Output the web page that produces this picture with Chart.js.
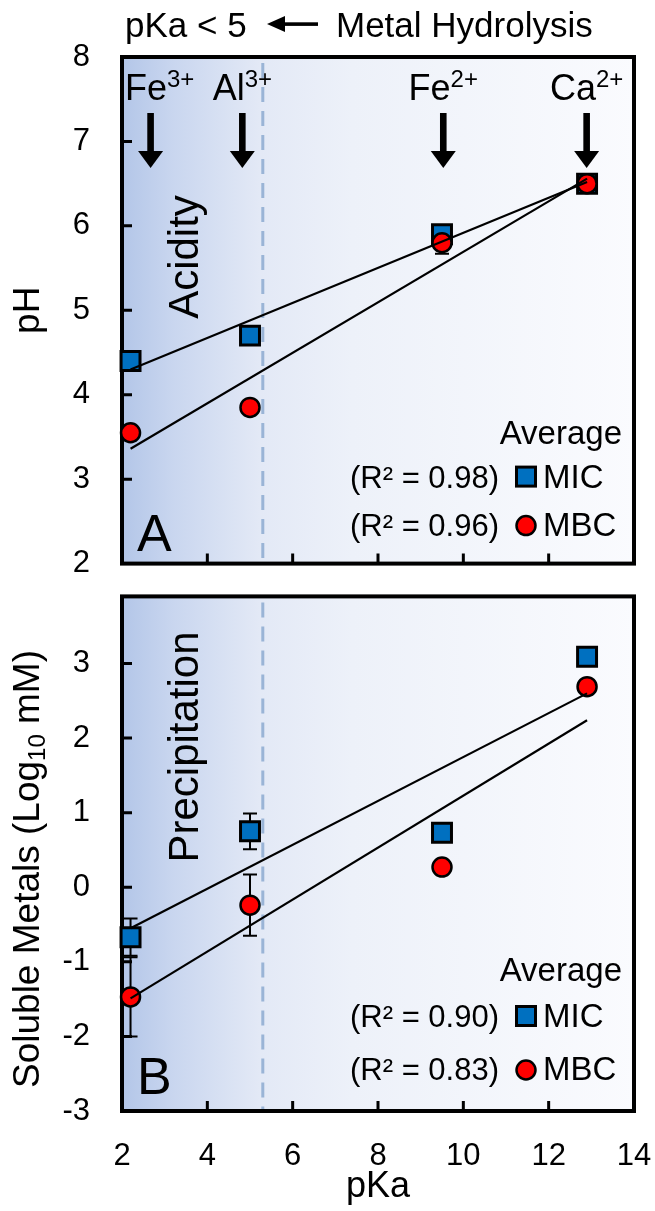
<!DOCTYPE html>
<html>
<head>
<meta charset="utf-8">
<script src="https://cdn.jsdelivr.net/npm/chart.js@4.4.0/dist/chart.umd.min.js"></script>
<style>
  body { margin: 0; background: #fff; }
  #wrap { position: relative; width: 655px; height: 1211px; }
  canvas { position: absolute; left: 0; }
</style>
</head>
<body>
<div id="wrap">
  <canvas id="chartA" width="655" height="580" style="top:0"></canvas>
  <canvas id="chartB" width="655" height="631" style="top:580px"></canvas>
</div>
<script>
// metal ions: Fe3+, Al3+, Fe2+, Ca2+
var pKa = [2.2, 5.0, 9.5, 12.9];
var ions = ['Fe', 'Al', 'Fe', 'Ca'];
var ionCharge = ['3+', '3+', '2+', '2+'];
var ionArrowX = [2.67, 4.82, 9.53, 12.89];
var hydrolysisPKa = 5.3;

// panel A - pH
var phMIC = [4.4, 4.7, 5.9, 6.5];
var phMBC = [3.55, 3.85, 5.8, 6.5];
var phMICErr = [0.06, 0.02, 0.03, 0.05];
var phMBCErr = [0.03, 0.02, 0.13, 0.04];

// panel B - soluble metals (log10 mM)
var metalMIC = [-0.67, 0.75, 0.73, 3.09];
var metalMBC = [-1.47, -0.24, 0.27, 2.69];
var metalMICErr = [0.25, 0.24, 0.03, 0.03];
var metalMBCErr = [0.53, 0.41, 0.03, 0.03];

// trend lines, read at the first and last pKa
var trendX = [2.2, 12.9];
var phFitMIC = [4.30, 6.52];
var phFitMBC = [3.36, 6.56];
var metalFitMIC = [-0.55, 2.60];
var metalFitMBC = [-1.49, 2.24];
var r2pH = ['0.98', '0.96'];
var r2Metal = ['0.90', '0.83'];

// axes
var xTicks = [2, 4, 6, 8, 10, 12, 14];
var phTicks = [2, 3, 4, 5, 6, 7, 8];
var metalTicks = [-3, -2, -1, 0, 1, 2, 3];

var FONT = '"Liberation Sans", Arial, sans-serif';
var BLUE = '#0070c0';
var RED = '#ff0000';

function pts(xs, ys) {
	return xs.map(function (x, i) { return { x: x, y: ys[i] }; });
}

function txt(ctx, s, x, y, size, align, base) {
	ctx.font = size + 'px ' + FONT;
	ctx.textAlign = align || 'left';
	ctx.textBaseline = base || 'alphabetic';
	ctx.fillStyle = '#000';
	ctx.fillText(s, x, y);
}

function rotTxt(ctx, pieces, cx, cy) {
	// pieces: [text, size, baseline shift]
	ctx.save();
	ctx.translate(cx, cy);
	ctx.rotate(-Math.PI / 2);
	var total = 0;
	pieces.forEach(function (p) { ctx.font = p[1] + 'px ' + FONT; total += ctx.measureText(p[0]).width; });
	var x = -total / 2;
	pieces.forEach(function (p) {
		txt(ctx, p[0], x, p[2], p[1], 'left', 'middle');
		ctx.font = p[1] + 'px ' + FONT;
		x += ctx.measureText(p[0]).width;
	});
	ctx.restore();
}

function squareIcon(ctx, x, y) {
	ctx.fillStyle = BLUE; ctx.strokeStyle = '#000'; ctx.lineWidth = 3;
	ctx.fillRect(x - 9.5, y - 9.5, 19, 19);
	ctx.strokeRect(x - 9.5, y - 9.5, 19, 19);
}

function circleIcon(ctx, x, y) {
	ctx.fillStyle = RED; ctx.strokeStyle = '#000'; ctx.lineWidth = 2.5;
	ctx.beginPath(); ctx.arc(x, y, 9.5, 0, Math.PI * 2); ctx.fill(); ctx.stroke();
}

function downArrow(ctx, x, y0, y1) {
	ctx.fillStyle = '#000';
	ctx.fillRect(x - 3.3, y0, 6.6, y1 - y0 - 15);
	ctx.beginPath();
	ctx.moveTo(x - 12.5, y1 - 17); ctx.lineTo(x + 12.5, y1 - 17); ctx.lineTo(x, y1);
	ctx.closePath(); ctx.fill();
}

// background, hydrolysis line, frame, inward ticks and error bars
var framePlugin = {
	id: 'frame',
	beforeDatasetsDraw: function (chart, args, opts) {
		var ctx = chart.ctx, a = chart.chartArea, xs = chart.scales.x, ys = chart.scales.y;
		ctx.save();
		var g = ctx.createLinearGradient(a.left, 0, a.right, 0);
		g.addColorStop(0, '#b3c6e8');
		g.addColorStop(0.1, '#c9d6ef');
		g.addColorStop(0.27, '#e3e9f6');
		g.addColorStop(0.45, '#edf1f9');
		g.addColorStop(1, '#fafbfe');
		ctx.fillStyle = g;
		ctx.fillRect(a.left, a.top, a.right - a.left, a.bottom - a.top);

		var hx = xs.getPixelForValue(hydrolysisPKa);
		ctx.strokeStyle = '#9ab4d6'; ctx.lineWidth = 3; ctx.setLineDash([15, 9]);
		ctx.beginPath(); ctx.moveTo(hx, a.top + 6); ctx.lineTo(hx, a.bottom); ctx.stroke();
		ctx.setLineDash([]);

		ctx.strokeStyle = '#000'; ctx.lineWidth = 3;
		ctx.beginPath();
		opts.yTicks.forEach(function (v) {
			var py = ys.getPixelForValue(v);
			ctx.moveTo(a.left, py); ctx.lineTo(a.left + 10, py);
		});
		xTicks.forEach(function (v) {
			var px = xs.getPixelForValue(v);
			ctx.moveTo(px, a.bottom); ctx.lineTo(px, a.bottom - 10);
		});
		ctx.stroke();
		ctx.lineWidth = 4;
		ctx.strokeRect(a.left, a.top, a.right - a.left, a.bottom - a.top);

		// error bars
		ctx.lineWidth = 2;
		chart.data.datasets.forEach(function (ds) {
			if (!ds.errors) return;
			ds.data.forEach(function (p, i) {
				var px = xs.getPixelForValue(p.x);
				var t = ys.getPixelForValue(p.y + ds.errors[i]);
				var b = ys.getPixelForValue(p.y - ds.errors[i]);
				ctx.beginPath();
				ctx.moveTo(px, t); ctx.lineTo(px, b);
				ctx.moveTo(px - 7, t); ctx.lineTo(px + 7, t);
				ctx.moveTo(px - 7, b); ctx.lineTo(px + 7, b);
				ctx.stroke();
			});
		});
		ctx.restore();
	}
};

// legend, panel letter, region label
var notesPlugin = {
	id: 'notes',
	afterDraw: function (chart, args, o) {
		var ctx = chart.ctx, a = chart.chartArea;
		ctx.save();
		var lx = a.right - 108;
		txt(ctx, 'Average', a.right - 12, a.bottom - o.legendY[0], 33, 'right');
		txt(ctx, '(R\u00b2 = ' + o.r2[0] + ')', a.right - 135, a.bottom - o.legendY[1], 31, 'right');
		squareIcon(ctx, lx, a.bottom - o.legendY[1] - 11);
		txt(ctx, 'MIC', a.right - 91, a.bottom - o.legendY[1], 33, 'left');
		txt(ctx, '(R\u00b2 = ' + o.r2[1] + ')', a.right - 135, a.bottom - o.legendY[2], 31, 'right');
		circleIcon(ctx, lx, a.bottom - o.legendY[2] - 10);
		txt(ctx, 'MBC', a.right - 91, a.bottom - o.legendY[2], 33, 'left');

		txt(ctx, o.letter, a.left + 15, a.bottom - o.letterY, 52, 'left');
		rotTxt(ctx, [[o.region, 42, 0]], a.left + 64, o.regionY);
		ctx.restore();
	}
};

function dataSets(mic, mbc, micErr, mbcErr, fitMic, fitMbc) {
	return [
		{ label: 'MIC fit', data: pts(trendX, fitMic), showLine: true, borderColor: '#000', borderWidth: 2.2, pointRadius: 0, order: 0, clip: false },
		{ label: 'MBC fit', data: pts(trendX, fitMbc), showLine: true, borderColor: '#000', borderWidth: 2.2, pointRadius: 0, order: 0, clip: false },
		{ label: 'MBC', data: pts(pKa, mbc), errors: mbcErr, pointStyle: 'circle', pointRadius: 9.5, backgroundColor: RED, borderColor: '#000', borderWidth: 2.5, order: 1, clip: false },
		{ label: 'MIC', data: pts(pKa, mic), errors: micErr, pointStyle: 'rect', pointRadius: 13.4, backgroundColor: BLUE, borderColor: '#000', borderWidth: 3, order: 2, clip: false }
	];
}

// keep the plot box where the layout padding puts it
function noLabelPadding(s) {
	s.paddingTop = 0; s.paddingBottom = 0; s.paddingLeft = 0; s.paddingRight = 0;
}

function yAxis(min, max, ticks) {
	return {
		type: 'linear', min: min, max: max,
		afterFit: function (s) { s.width = 122; noLabelPadding(s); },
		afterBuildTicks: function (s) { s.ticks = ticks.map(function (v) { return { value: v }; }); },
		ticks: { color: '#000', padding: 32, font: { family: FONT, size: 31 } },
		grid: { display: false, drawTicks: false },
		border: { display: false }
	};
}

Chart.defaults.animation = false;

var chartA = new Chart(document.getElementById('chartA'), {
	type: 'scatter',
	data: { datasets: dataSets(phMIC, phMBC, phMICErr, phMBCErr, phFitMIC, phFitMBC) },
	options: {
		responsive: false,
		devicePixelRatio: 1,
		layout: { padding: { top: 57, right: 21, bottom: 0, left: 0 } },
		scales: {
			x: {
				type: 'linear', min: 2, max: 14,
				afterFit: function (s) { s.height = 12; noLabelPadding(s); },
				afterBuildTicks: function (s) { s.ticks = xTicks.map(function (v) { return { value: v }; }); },
				ticks: { display: false },
				grid: { display: false, drawTicks: false },
				border: { display: false }
			},
			y: yAxis(2, 8, phTicks)
		},
		plugins: {
			legend: { display: false },
			tooltip: { enabled: false },
			frame: { yTicks: phTicks },
			notes: { r2: r2pH, legendY: [120, 76, 28], letter: 'A', letterY: 13, region: 'Acidity', regionY: 257 }
		}
	},
	plugins: [framePlugin, notesPlugin, {
		id: 'topNotes',
		afterDraw: function (chart) {
			var ctx = chart.ctx, a = chart.chartArea, xs = chart.scales.x;
			ctx.save();
			// header
			txt(ctx, 'pKa < 5', 125, 37, 35, 'left');
			ctx.fillStyle = '#000';
			ctx.fillRect(282, 22.3, 36, 3.6);
			ctx.beginPath(); ctx.moveTo(267, 24); ctx.lineTo(285, 16); ctx.lineTo(285, 32); ctx.closePath(); ctx.fill();
			txt(ctx, 'Metal Hydrolysis', 336, 37, 35, 'left');
			// ion labels and arrows
			ionArrowX.forEach(function (v, i) {
				var px = xs.getPixelForValue(v);
				ctx.font = '36px ' + FONT;
				var w1 = ctx.measureText(ions[i]).width;
				ctx.font = '24px ' + FONT;
				var w2 = ctx.measureText(ionCharge[i]).width;
				var cx = Math.max(px, a.left + (w1 + w2) / 2 + 3);
				var left = cx - (w1 + w2) / 2;
				txt(ctx, ions[i], left, a.top + 43, 36, 'left');
				txt(ctx, ionCharge[i], left + w1, a.top + 30, 24, 'left');
				downArrow(ctx, px, a.top + 56, a.top + 111);
			});
			rotTxt(ctx, [['pH', 37, 0]], 29, (a.top + a.bottom) / 2);
			ctx.restore();
		}
	}]
});

var chartB = new Chart(document.getElementById('chartB'), {
	type: 'scatter',
	data: { datasets: dataSets(metalMIC, metalMBC, metalMICErr, metalMBCErr, metalFitMIC, metalFitMBC) },
	options: {
		responsive: false,
		devicePixelRatio: 1,
		layout: { padding: { top: 15, right: 21, bottom: 0, left: 0 } },
		scales: {
			x: {
				type: 'linear', min: 2, max: 14,
				afterFit: function (s) { s.height = 100; noLabelPadding(s); },
				afterBuildTicks: function (s) { s.ticks = xTicks.map(function (v) { return { value: v }; }); },
				ticks: { color: '#000', padding: 27, maxRotation: 0, font: { family: FONT, size: 31 } },
				grid: { display: false, drawTicks: false },
				border: { display: false }
			},
			y: yAxis(-3, 3.9, metalTicks)
		},
		plugins: {
			legend: { display: false },
			tooltip: { enabled: false },
			frame: { yTicks: metalTicks },
			notes: { r2: r2Metal, legendY: [130, 84, 31], letter: 'B', letterY: 17, region: 'Precipitation', regionY: 167 }
		}
	},
	plugins: [framePlugin, notesPlugin, {
		id: 'axisTitles',
		afterDraw: function (chart) {
			var ctx = chart.ctx, a = chart.chartArea;
			ctx.save();
			txt(ctx, 'pKa', (a.left + a.right) / 2, 617, 36, 'center');
			rotTxt(ctx, [['Soluble Metals (Log', 37, 0], ['10', 24, 9], [' mM)', 37, 0]], 29, 289);
			ctx.restore();
		}
	}]
});
</script>
</body>
</html>
